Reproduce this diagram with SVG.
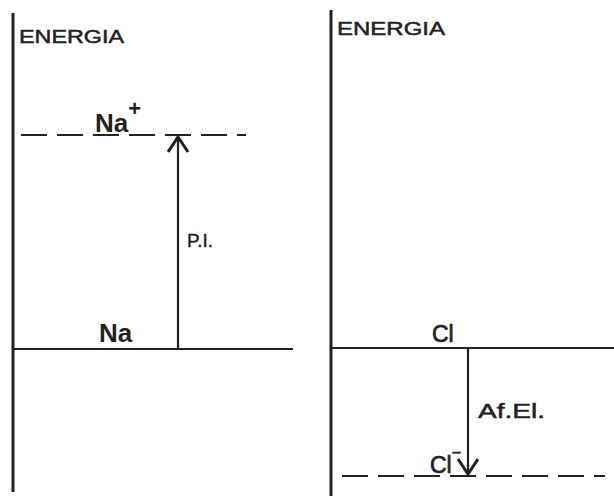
<svg xmlns="http://www.w3.org/2000/svg" width="614" height="496" viewBox="0 0 614 496">
<style>
.ax{stroke:#222;stroke-width:3;fill:none}
.ln{stroke:#222;stroke-width:2.2;fill:none}
.ds{stroke:#222;stroke-width:2.2;fill:none;stroke-dasharray:26 10}
.t{font-family:"Liberation Sans",Arial,sans-serif;fill:#222}
.lab{font-size:19px;stroke:#222;stroke-width:0.5}
.b{font-size:26px;font-weight:bold}
.m{font-size:23px;stroke:#222;stroke-width:0.7}
.s{font-size:18px;stroke:#222;stroke-width:0.4}
.s2{font-size:21px;stroke:#222;stroke-width:0.5}
</style>
<defs>
<marker id="ah" markerWidth="20" markerHeight="24" refX="16" refY="11" orient="auto" markerUnits="userSpaceOnUse">
<path d="M1,1 L16,11 L1,21" fill="none" stroke="#222" stroke-width="3"/>
</marker>
</defs>
<rect width="614" height="496" fill="#fff"/>
<g id="left-panel">
<line class="ax" x1="13" y1="13" x2="13" y2="492"/>
<text class="t lab" x="19" y="43" textLength="105" lengthAdjust="spacingAndGlyphs">ENERGIA</text>
<line class="ln" x1="13" y1="349" x2="293" y2="349"/>
<text class="t b" x="99" y="342">Na</text>
<line class="ds" x1="21" y1="135" x2="246" y2="135"/>
<text class="t b" x="95" y="132">Na<tspan font-size="22" dy="-16">+</tspan></text>
</g>
<g id="right-panel">
<line class="ax" x1="331" y1="10" x2="331" y2="496"/>
<text class="t lab" x="337" y="35" textLength="108" lengthAdjust="spacingAndGlyphs">ENERGIA</text>
<line class="ln" x1="331" y1="348" x2="614" y2="348"/>
<text class="t m" x="432" y="342">Cl</text>
<line class="ds" x1="342" y1="476" x2="605" y2="476"/>
<text class="t m" x="430" y="473">Cl<tspan font-size="16" dy="-15">−</tspan></text>
</g>
<g id="connectors">
<line class="ln" x1="178" y1="349" x2="178" y2="137" marker-end="url(#ah)"/>
<text class="t s" x="187" y="247" textLength="26" lengthAdjust="spacingAndGlyphs">P.I.</text>
<line class="ln" x1="468" y1="348" x2="468" y2="474" marker-end="url(#ah)"/>
<text class="t s2" x="478" y="418" textLength="67" lengthAdjust="spacingAndGlyphs">Af.El.</text>
</g>
</svg>
